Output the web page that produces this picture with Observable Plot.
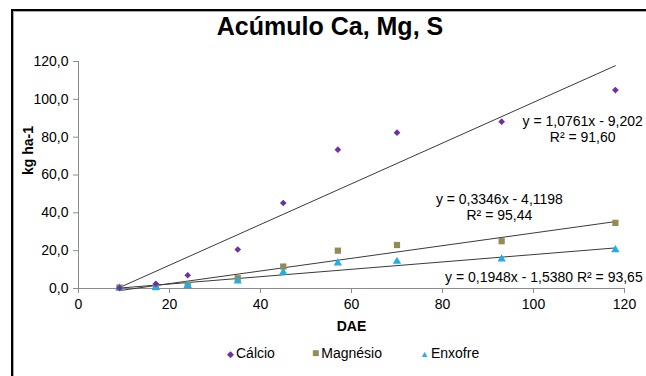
<!DOCTYPE html>
<html>
<head>
<meta charset="utf-8">
<script src="https://cdn.jsdelivr.net/npm/d3@7"></script>
<script src="https://cdn.jsdelivr.net/npm/@observablehq/plot@0.6"></script>
<style>
  html, body { margin: 0; padding: 0; background: #fff; }
  body { font-family: "Liberation Sans", Arial, sans-serif; }
  #wrap { position: relative; width: 646px; height: 376px; overflow: hidden; background: #fff; }
  #frame { position: absolute; left: 11px; top: 9px; width: 700px; height: 420px;
           border-left: 2px solid #000; border-top: 2px solid #000; box-shadow: 1px 1px 0 #aaa inset; }
  #title { position: absolute; left: 0; top: 0; width: 660px; height: 50px; text-align: center;
           font-size: 25px; font-weight: bold; line-height: 50px; padding-top: 1px; color: #000; }
  #chart { position: absolute; left: 0; top: 50px; }
  #legend { position: absolute; left: 0; top: 343px; width: 646px; height: 20px; font-size: 14px; color: #000; }
  .lg { position: absolute; top: 0; line-height: 20px; white-space: nowrap; }
  .mk { display: inline-block; margin-right: 2px; vertical-align: 1px; }
</style>
</head>
<body>
<div id="wrap">
  <div id="frame"></div>
  <div id="title"></div>
  <div id="chart"></div>
  <div id="legend"></div>
</div>
<script>
// ---- data ----
const title = "Acúmulo Ca, Mg, S";
const xLabel = "DAE";
const yLabel = "kg ha-1";
const seriesNames = ["Cálcio", "Magnésio", "Enxofre"];
const seriesColors = ["#7030A0", "#948A54", "#1FAEE8"];
const seriesSymbols = ["diamond2", "square", "triangle"];
const dae = [9, 17, 24, 35, 45, 57, 70, 93, 118];
const calcio = [0.3, 2.5, 7.0, 20.6, 45.2, 73.4, 82.4, 88.2, 104.9];
const magnesio = [0.5, 0.7, 2.0, 5.4, 11.6, 20.0, 23.0, 25.0, 34.7];
const enxofre = [0.2, 0.5, 1.5, 3.9, 8.6, 13.4, 14.3, 15.5, 20.4];
const slopes = [1.0761, 0.3346, 0.1948];
const intercepts = [-9.202, -4.1198, -1.5380];
const equations = [
  "y = 1,0761x - 9,202\nR² = 91,60",
  "y = 0,3346x - 4,1198\nR² = 95,44",
  "y = 0,1948x - 1,5380 R² = 93,65"
];
const xTicks = [0, 20, 40, 60, 80, 100, 120];
const yTicks = [0, 20, 40, 60, 80, 100, 120];

// ---- derived tables ----
const values = [calcio, magnesio, enxofre];
const points = [];
values.forEach((vals, s) => vals.forEach((v, i) => points.push({series: seriesNames[s], x: dae[i], y: v})));
const trend = [];
slopes.forEach((m, s) => {
  [dae[0], dae[dae.length - 1]].forEach(x => trend.push({series: seriesNames[s], x, y: m * x + intercepts[s]}));
});
const fmtY = d => d.toFixed(1).replace(".", ",");

document.getElementById("title").textContent = title;

const font = '"Liberation Sans", Arial, sans-serif';
const chart = Plot.plot({
  width: 646,
  height: 290,
  marginLeft: 78,
  marginRight: 22,
  marginTop: 11,
  marginBottom: 52,
  style: {fontFamily: font, fontSize: "14px", background: "transparent", overflow: "visible"},
  x: {domain: [0, 120]},
  y: {domain: [0, 120]},
  marks: [
    Plot.axisY({ticks: yTicks, tickFormat: fmtY, tickSize: 5, tickPadding: 5, stroke: "#8c8c8c", fill: "#000", label: null, fontSize: 14}),
    Plot.axisX({ticks: xTicks, tickSize: 5, tickPadding: 6, stroke: "#8c8c8c", fill: "#000", label: null, fontSize: 14}),
    Plot.ruleX([0], {stroke: "#8c8c8c"}),
    Plot.ruleY([0], {stroke: "#8c8c8c"}),
    Plot.line(trend, {x: "x", y: "y", z: "series", stroke: "#3a3a3a", strokeWidth: 1}),
    Plot.dot(points, {x: "x", y: "y",
      fill: d => seriesColors[seriesNames.indexOf(d.series)],
      symbol: d => seriesSymbols[seriesNames.indexOf(d.series)],
      r: d => [3.2, 4.4, 3.4][seriesNames.indexOf(d.series)],
      stroke: "none"}),
    Plot.text([equations[0]], {x: 110.8, y: 84.5, text: d => d, fontSize: 14, lineHeight: 1.15, textAnchor: "middle", fill: "#000"}),
    Plot.text([equations[1]], {x: 92.5, y: 43.3, text: d => d, fontSize: 14, lineHeight: 1.15, textAnchor: "middle", fill: "#000"}),
    Plot.text([equations[2]], {x: 124, y: 5.8, text: d => d, fontSize: 14, textAnchor: "end", fill: "#000"}),
    Plot.text([xLabel], {frameAnchor: "bottom", dy: 42, text: d => d, fontWeight: "bold", fontSize: 14, fill: "#000"}),
    Plot.text([yLabel], {frameAnchor: "left", dx: -50, rotate: -90, text: d => d, fontWeight: "bold", fontSize: 14, fill: "#000"})
  ]
});
document.getElementById("chart").appendChild(chart);

// legend
const legend = document.getElementById("legend");
const lgLeft = [227, 312, 420];
const lgGlyph = ["◆", "■", "▲"];
const lgSize = ["9px", "12px", "9px"];
seriesNames.forEach((name, i) => {
  const item = document.createElement("div");
  item.className = "lg";
  item.style.left = lgLeft[i] + "px";
  const mk = document.createElement("span");
  mk.className = "mk";
  mk.style.color = seriesColors[i];
  mk.style.fontSize = lgSize[i];
  mk.textContent = lgGlyph[i];
  item.appendChild(mk);
  item.appendChild(document.createTextNode(name));
  legend.appendChild(item);
});
</script>
</body>
</html>
